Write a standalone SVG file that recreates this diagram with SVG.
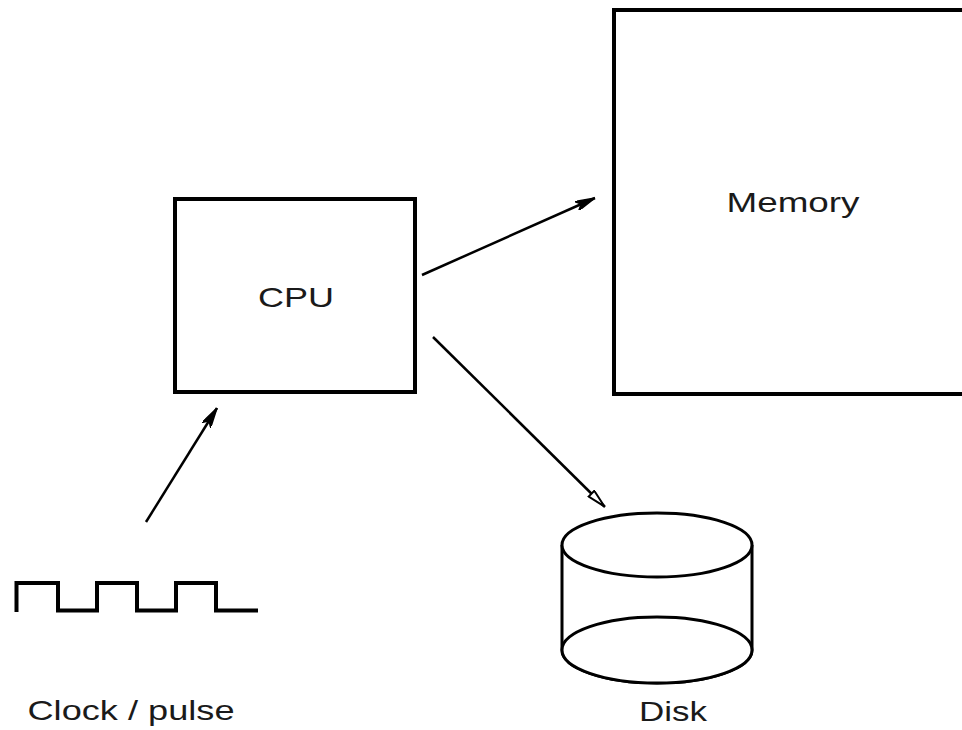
<svg xmlns="http://www.w3.org/2000/svg" width="962" height="730" viewBox="0 0 962 730">
<style>
.box{fill:#fff;stroke:#000;stroke-width:4}
.lbl{font-family:"Liberation Sans",Arial,sans-serif;font-size:28px;fill:#1a1a1a;text-anchor:middle}
.conn{stroke:#000;stroke-width:2.5;fill:none}
.disk{fill:#fff;stroke:#000;stroke-width:3}
</style>
<defs>
<marker id="arr" viewBox="0 0 20 10" refX="20" refY="5" markerWidth="20" markerHeight="10" markerUnits="userSpaceOnUse" orient="auto">
<path d="M0,0 L20,5 L0,10 L5,5 Z" fill="#000" stroke="#000" stroke-width="1.5"/>
</marker>
<marker id="arrh" viewBox="0 0 20 10" refX="20" refY="5" markerWidth="20" markerHeight="10" markerUnits="userSpaceOnUse" orient="auto">
<path d="M1,1 L19,5 L1,9 Z" fill="#fff" stroke="#000" stroke-width="2"/>
</marker>
</defs>
<rect width="962" height="730" fill="#fff"/>
<g id="cpu">
<rect class="box" x="175" y="199" width="240" height="193"/>
<text class="lbl" x="296" y="307" textLength="76" lengthAdjust="spacingAndGlyphs">CPU</text>
</g>
<g id="memory">
<rect class="box" x="614" y="10" width="360" height="384"/>
<text class="lbl" x="793" y="212" textLength="133" lengthAdjust="spacingAndGlyphs">Memory</text>
</g>
<g id="disk">
<path class="disk" d="M562,545 V650 A95,33 0 0 0 752,650 V545"/>
<ellipse class="disk" cx="657" cy="650" rx="95" ry="33"/>
<ellipse class="disk" cx="657" cy="545" rx="95" ry="32"/>
<text class="lbl" x="673" y="721" textLength="68" lengthAdjust="spacingAndGlyphs">Disk</text>
</g>
<g id="clock">
<path d="M16.5,612 V583 H58 V610.5 H97 V583 H137 V610.5 H176 V583 H216 V610.5 H258" fill="none" stroke="#000" stroke-width="4"/>
<text class="lbl" x="131" y="720" textLength="207" lengthAdjust="spacingAndGlyphs">Clock / pulse</text>
</g>
<g id="connectors">
<line class="conn" x1="422" y1="275" x2="595" y2="198" marker-end="url(#arr)"/>
<line class="conn" x1="433" y1="337" x2="605" y2="507" marker-end="url(#arrh)"/>
<line class="conn" x1="146" y1="522" x2="217" y2="408" marker-end="url(#arr)"/>
</g>
</svg>
